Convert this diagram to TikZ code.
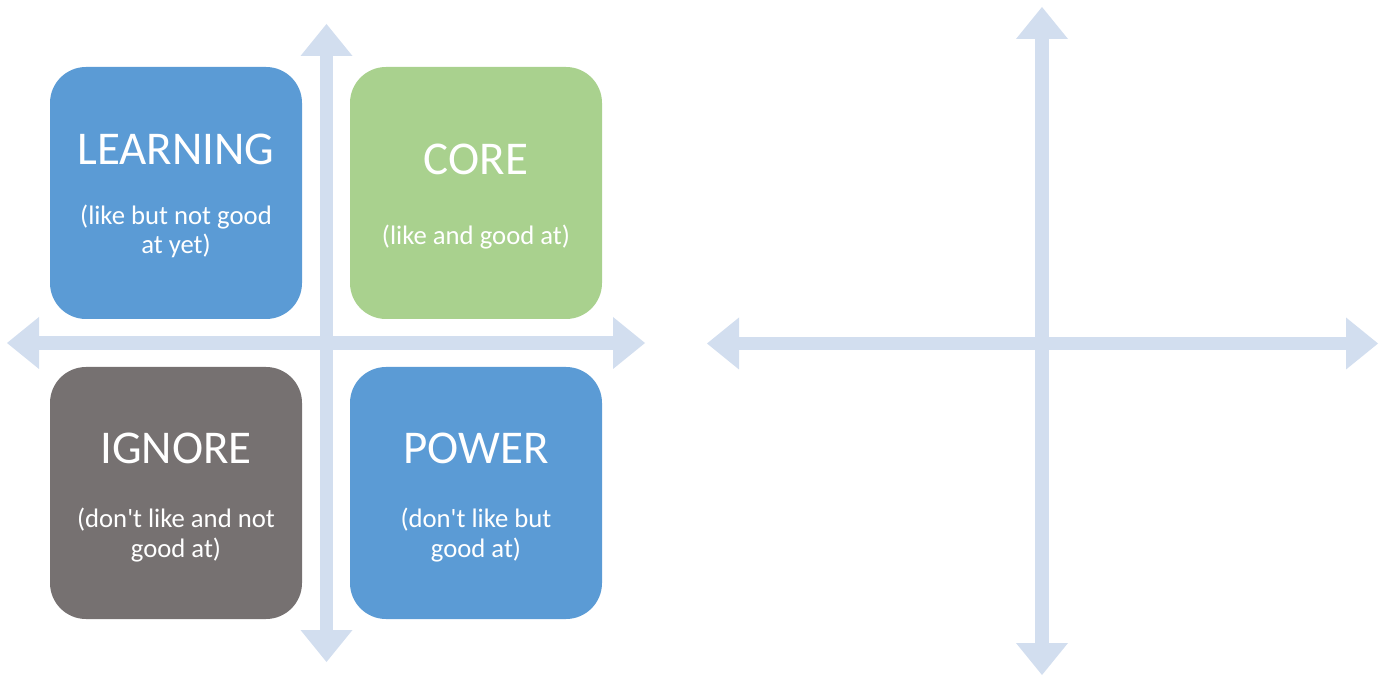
\documentclass[tikz,border=0pt]{standalone}
\usepackage{fontspec}
\setmainfont{Carlito}
\usepackage{xcolor}
\usetikzlibrary{arrows.meta,positioning}

\definecolor{quadblue}{HTML}{5B9BD5}
\definecolor{quadgreen}{HTML}{A9D18E}
\definecolor{quadgray}{HTML}{767171}
\definecolor{axisblue}{HTML}{D2DEEF}

\begin{document}
\begin{tikzpicture}[x=1pt,y=1pt,
    quad/.style={rounded corners=36pt, minimum width=252pt, minimum height=252pt, inner sep=0pt},
    axis/.style={draw=axisblue, line width=13.5pt,
        {Triangle[width=52pt,length=32pt,line width=0pt]}-{Triangle[width=52pt,length=32pt,line width=0pt]}},
    head/.style={text=white, font=\fontsize{47}{55}\selectfont, anchor=base},
    note/.style={text=white, align=center, font=\fontsize{26.7}{29.5}\selectfont, anchor=base}]
    \useasboundingbox (0,0) rectangle (1380,675);

    % axes
    \coordinate (lW) at (7,332);
    \coordinate (lE) at (645,332);
    \coordinate (lN) at (326.5,651);
    \coordinate (lS) at (326.5,13);
    \coordinate (rW) at (707,331.5);
    \coordinate (rE) at (1378,331.5);
    \coordinate (rN) at (1042,668);
    \coordinate (rS) at (1042,0);
    \draw[axis] (lW) -- (lE);
    \draw[axis] (lN) -- (lS);
    \draw[axis] (rW) -- (rE);
    \draw[axis] (rN) -- (rS);

    % quadrants
    \node[quad, fill=quadblue] (learn) at (176,482) {};
    \node[quad, fill=quadgreen] (core) at (476,482) {};
    \node[quad, fill=quadgray] (ignore) at (176,182) {};
    \node[quad, fill=quadblue] (power) at (476,182) {};

    % base of a two-line note sits on its last line
    \node[head] (learnT) at ([yshift=28pt]learn.center) {LEARNING};
    \node[note] (learnS) at ([yshift=-61pt]learn.center) {(like but not good\\at yet)};

    \node[head] (coreT) at ([yshift=18pt]core.center) {CORE};
    \node[note] (coreS) at ([yshift=-52pt]core.center) {(like and good at)};

    \node[head] (ignoreT) at ([yshift=30pt]ignore.center) {IGNORE};
    \node[note] (ignoreS) at ([yshift=-64pt]ignore.center) {(don\textquotesingle t like and not\\good at)};

    \node[head] (powerT) at ([yshift=30pt]power.center) {POWER};
    \node[note] (powerS) at ([yshift=-64pt]power.center) {(don\textquotesingle t like but\\good at)};
\end{tikzpicture}
\end{document}
